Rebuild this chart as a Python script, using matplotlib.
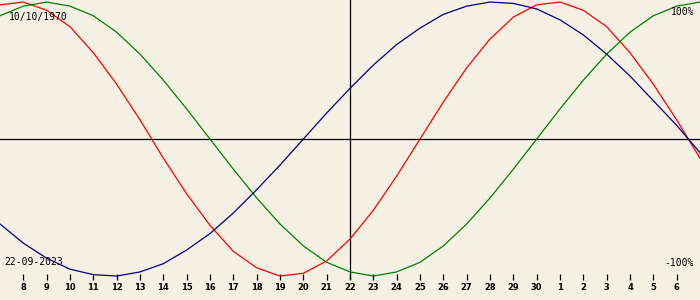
import matplotlib
matplotlib.use("Agg")
import matplotlib.pyplot as plt

# --- biorhythm values, one per day (7 Sep .. 7 Oct 2023) ---
day_labels = [7, 8, 9, 10, 11, 12, 13, 14, 15, 16, 17, 18, 19, 20, 21, 22,
              23, 24, 25, 26, 27, 28, 29, 30, 1, 2, 3, 4, 5, 6, 7]
physical = [98, 100, 94, 82, 63, 40, 14, -14, -40, -63, -82, -94, -100, -98, -89, -73,
            -52, -27, 0, 27, 52, 73, 89, 98, 100, 94, 82, 63, 40, 14, -14]
emotional = [90, 97, 100, 97, 90, 78, 62, 43, 22, 0, -22, -43, -62, -78, -90, -97,
             -100, -97, -90, -78, -62, -43, -22, 0, 22, 43, 62, 78, 90, 97, 100]
intellectual = [-62, -76, -87, -95, -99, -100, -97, -91, -81, -69, -54, -37, -19, 0, 19, 37,
                54, 69, 81, 91, 97, 100, 99, 95, 87, 76, 62, 46, 28, 10, -10]
birth_date = "10/10/1970"
today_label = "22-09-2023"
today_idx = 15

BG = "#f4f0e4"
x = [i - today_idx for i in range(len(day_labels))]

fig = plt.figure(figsize=(7, 3), dpi=100, facecolor=BG)
ax = fig.add_axes([0, 20 / 300, 1, 280 / 300], facecolor=BG)
ax.set_xlim(-15, 15)
ax.set_ylim(-102.9, 101.5)
for s in ax.spines.values():
    s.set_visible(False)

# crosshair at today / zero
ax.axhline(0, color="black", lw=0.9)
ax.axvline(0, color="black", lw=0.9)

ax.plot(x, physical, color="#ff0000", lw=0.9)
ax.plot(x, emotional, color="#008000", lw=0.9)
ax.plot(x, intellectual, color="#000080", lw=0.9)

# ticks: every day except the two edge days
ax.set_xticks(x[1:-1])
ax.set_xticklabels([str(d) for d in day_labels[1:-1]])
ax.set_yticks([])
ax.tick_params(axis="x", direction="in", length=4.3, width=0.9, color="black",
               pad=2.5, labelsize=6)
for t in ax.get_xticklabels():
    t.set_fontweight("bold")

mono = "DejaVu Sans Mono"
fig.text(9 / 700, 1 - 17 / 300, birth_date, ha="left", va="center", fontsize=7, family=mono)
fig.text(4 / 700, 1 - 262 / 300, today_label, ha="left", va="center", fontsize=7, family=mono)
fig.text(694 / 700, 1 - 12 / 300, "100%", ha="right", va="center", fontsize=7, family=mono)
fig.text(694 / 700, 1 - 263 / 300, "-100%", ha="right", va="center", fontsize=7, family=mono)

fig.savefig("out.png", dpi=100, facecolor=BG)
